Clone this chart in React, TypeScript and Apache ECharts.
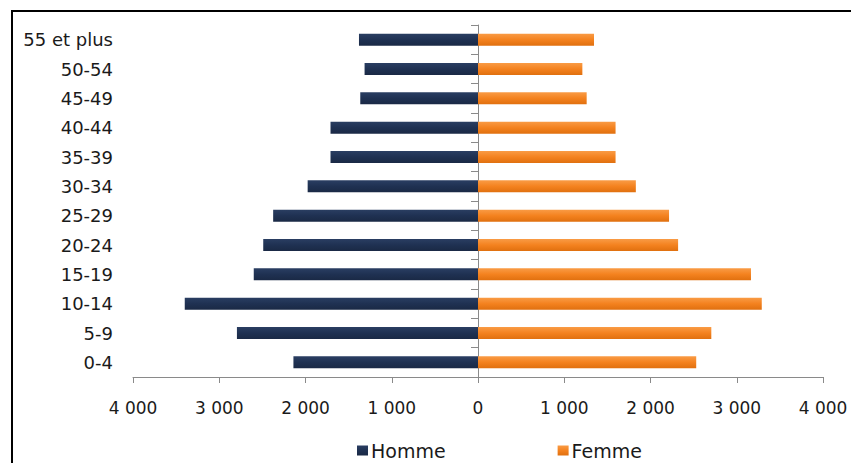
import React, { useEffect, useRef } from "react";
import * as echarts from "echarts";

const categories = ["0-4", "5-9", "10-14", "15-19", "20-24", "25-29", "30-34", "35-39", "40-44", "45-49", "50-54", "55 et plus"];
const homme = [2140, 2795, 3400, 2600, 2490, 2375, 1975, 1710, 1710, 1365, 1315, 1380];
const femme = [2530, 2705, 3290, 3165, 2320, 2215, 1830, 1595, 1595, 1260, 1210, 1345];
const seriesNames = ["Homme", "Femme"];

const fmt = (v: number) => {
  const a = Math.abs(v);
  if (a === 0) return "0";
  const s = String(a);
  return s.replace(/\B(?=(\d{3})+(?!\d))/g, " ");
};

export default function App() {
  const ref = useRef<HTMLDivElement>(null);
  useEffect(() => {
    if (!ref.current) return;
    const chart = echarts.init(ref.current, undefined, { renderer: "svg" });
    const font = "DejaVu Sans";
    chart.setOption({
      animation: false,
      backgroundColor: "#ffffff",
      grid: { left: 133, right: 28, top: 25, bottom: 86, containLabel: false },
      legend: {
        data: seriesNames,
        left: 352,
        top: 436,
        icon: "rect",
        itemWidth: 11,
        itemHeight: 10,
        itemGap: 112,
        textStyle: { fontFamily: font, fontSize: 19, color: "#1a1a1a", padding: [0, 0, 0, -2] },
      },
      xAxis: {
        type: "value",
        min: -4000,
        max: 4000,
        interval: 1000,
        splitLine: { show: false },
        axisLine: { show: true, onZero: false, lineStyle: { color: "#8a8a8a", width: 1 } },
        axisTick: { show: true, length: 6, lineStyle: { color: "#8a8a8a" } },
        axisLabel: { fontFamily: font, fontSize: 17, color: "#1a1a1a", margin: 22, formatter: (v: number) => fmt(v) },
      },
      yAxis: [
        {
          type: "category",
          data: categories,
          position: "left",
          axisLine: { show: false, onZero: false },
          axisTick: { show: false },
          axisLabel: { fontFamily: font, fontSize: 18, color: "#1a1a1a", margin: 20 },
        },
        {
          type: "category",
          data: categories,
          position: "left",
          axisLine: { show: true, onZero: true, lineStyle: { color: "#8a8a8a", width: 1 } },
          axisTick: { show: true, length: 7, lineStyle: { color: "#8a8a8a" } },
          axisLabel: { show: false },
        },
      ],
      series: [
        {
          name: "Homme",
          type: "bar",
          stack: "pop",
          yAxisIndex: 0,
          barWidth: 12,
          data: homme.map((v) => -v),
          itemStyle: {
            color: new echarts.graphic.LinearGradient(0, 0, 0, 1, [
              { offset: 0, color: "#2a3e62" },
              { offset: 0.5, color: "#1f3152" },
              { offset: 1, color: "#1a2945" },
            ]),
          },
        },
        {
          name: "Femme",
          type: "bar",
          stack: "pop",
          yAxisIndex: 0,
          barWidth: 12,
          data: femme,
          itemStyle: {
            color: new echarts.graphic.LinearGradient(0, 0, 0, 1, [
              { offset: 0, color: "#f99b45" },
              { offset: 0.5, color: "#f4821f" },
              { offset: 1, color: "#e0700f" },
            ]),
          },
        },
      ],
      graphic: [
        { type: "line", shape: { x1: 11, y1: 11, x2: 851, y2: 11 }, style: { stroke: "#000", lineWidth: 2 } },
        { type: "line", shape: { x1: 12, y1: 10, x2: 12, y2: 463 }, style: { stroke: "#000", lineWidth: 2 } },
      ],
    });
    return () => chart.dispose();
  }, []);
  return <div ref={ref} style={{ position: "fixed", left: 0, top: 0, width: 851, height: 463 }} />;
}
